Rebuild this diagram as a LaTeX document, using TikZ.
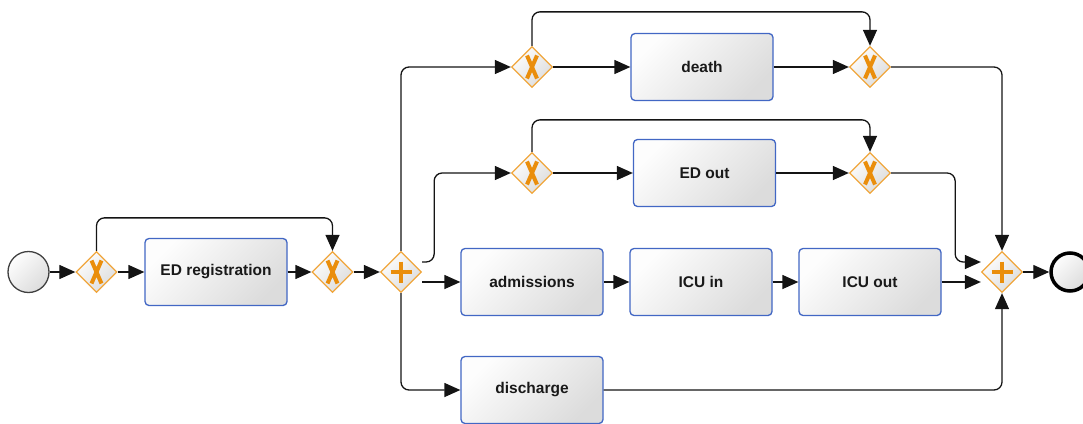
\documentclass[tikz,border=0pt]{standalone}
\usepackage{fontspec}
\setmainfont{Liberation Sans}
\usetikzlibrary{arrows.meta,shapes.geometric,calc}

\definecolor{taskblue}{RGB}{66,103,196}
\definecolor{gwborder}{RGB}{240,166,60}
\definecolor{gwmark}{RGB}{234,142,12}
\definecolor{shadelight}{RGB}{253,253,253}
\definecolor{shadedark}{RGB}{220,220,220}
\definecolor{flowline}{RGB}{20,20,20}

\begin{document}
\begin{tikzpicture}[x=1pt,y=-1pt,
  task/.style={draw=taskblue, line width=1.3pt, rounded corners=4pt,
    minimum width=142pt, minimum height=67pt, inner sep=0pt,
    top color=shadelight, bottom color=shadedark, shading angle=45,
    text=black!90, font=\bfseries\fontsize{15.5}{18}\selectfont},
  gw/.style={diamond, aspect=1, draw=gwborder, line width=1.3pt,
    minimum width=41pt, minimum height=41pt, inner sep=0pt,
    top color=shadelight, bottom color=shadedark, shading angle=45},
  xgw/.style={gw, path picture={
    \coordinate (c) at (path picture bounding box.center);
    \draw[gwmark, line width=4pt]
      (c) ++(-5,-11.5) -- ++(10,23)
      (c) ++(5,-11.5) -- ++(-10,23);}},
  pgw/.style={gw, path picture={
    \coordinate (c) at (path picture bounding box.center);
    \draw[gwmark, line width=3.8pt]
      (c) ++(-10.5,0) -- ++(21,0)
      (c) ++(0,-10.5) -- ++(0,21);}},
  startev/.style={circle, draw=black!75, line width=1.3pt,
    minimum size=41pt, inner sep=0pt,
    top color=shadelight, bottom color=shadedark, shading angle=45},
  endev/.style={circle, draw=black, line width=3.5pt,
    minimum size=38pt, inner sep=0pt,
    top color=shadelight, bottom color=shadedark, shading angle=45},
  flow/.style={draw=flowline, line width=1.3pt, rounded corners=8pt,
    -{Triangle[length=16pt,width=14pt]}}
]
\useasboundingbox (0,0) rectangle (1083,423);

% events, gateways and tasks
\node[startev] (start) at (28.5,272) {};
\node[xgw] (g1) at (96.5,272) {};
\node[task] (reg) at (216,272) {ED registration};
\node[xgw] (g2) at (332.5,272) {};
\node[pgw] (split) at (401,272) {};

\node[xgw] (d1) at (532,67) {};
\node[task] (death) at (702,67) {death};
\node[xgw] (d2) at (870,67) {};

\node[xgw] (e1) at (532,173) {};
\node[task] (edout) at (704.5,173) {ED out};
\node[xgw] (e2) at (870,173) {};

\node[task] (adm) at (532,282) {admissions};
\node[task] (icuin) at (701,282) {ICU in};
\node[task] (icuout) at (870,282) {ICU out};

\node[task] (disc) at (532,390) {discharge};

\node[pgw] (join) at (1002,272) {};
\node[endev] (end) at (1070,272) {};

% sequence flows
\draw[flow] (start) -- (g1);
\draw[flow] (g1) -- (reg);
\draw[flow] (g1.north) -- ++(0,-33) -| (g2.north);
\draw[flow] (reg) -- (g2);
\draw[flow] (g2) -- (split);

\draw[flow] (split.north) |- (d1.west);
\draw[flow] ([yshift=10pt]split.east) -- ++(12,0) |- (e1.west);
\draw[flow] ([yshift=-10pt]split.east) -- (adm.west);
\draw[flow] (split.south) |- (disc.west);

\draw[flow] (d1) -- (death);
\draw[flow] (death) -- (d2);
\draw[flow] (d1.north) -- ++(0,-34) -| (d2.north);

\draw[flow] (e1) -- (edout);
\draw[flow] (edout) -- (e2);
\draw[flow] (e1.north) -- ++(0,-32) -| (e2.north);

\draw[flow] (adm) -- (icuin);
\draw[flow] (icuin) -- (icuout);
\draw[flow] (icuout) -- ([yshift=-10pt]join.west);

\draw[flow] (e2.east) -- ++(64,0) |- ([yshift=10pt]join.west);
\draw[flow] (d2.east) -| (join.north);
\draw[flow] (disc.east) -| (join.south);
\draw[flow] (join) -- (end);
\end{tikzpicture}
\end{document}
